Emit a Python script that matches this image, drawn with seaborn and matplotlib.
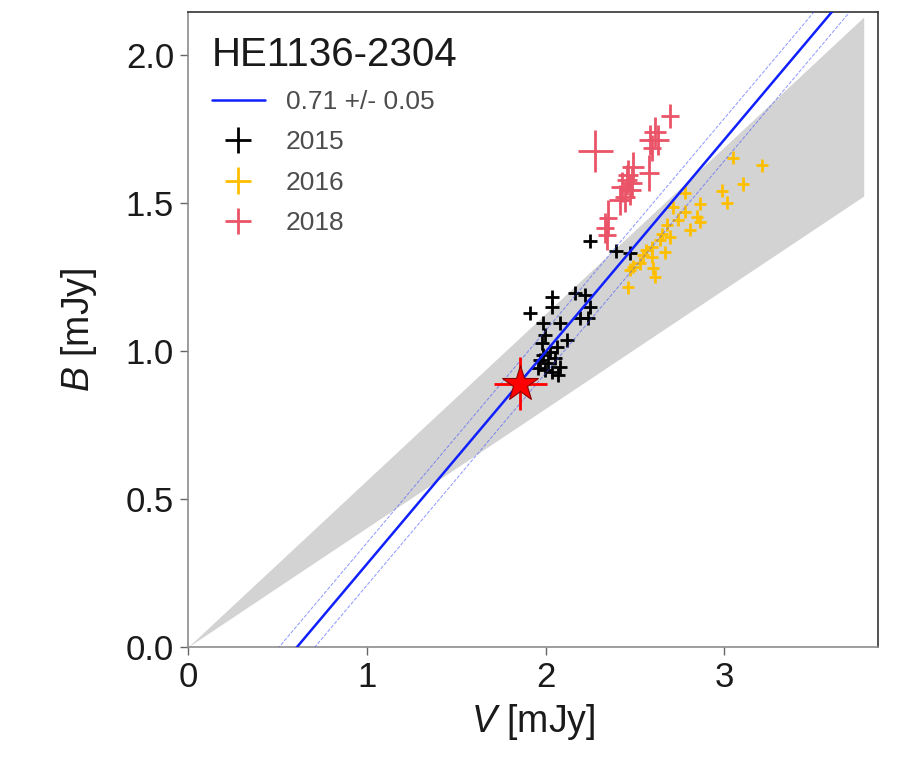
import numpy as np
import pandas as pd
import matplotlib
matplotlib.use("Agg")
import matplotlib.pyplot as plt
import seaborn as sns

# ---------------- data ----------------
v_2015 = [2.250, 2.395, 2.473, 1.914, 2.037, 2.037, 2.166, 2.222, 2.250, 2.194,
          2.238, 1.987, 2.082, 1.998, 2.121, 1.981, 2.065, 2.026, 1.987, 2.054,
          1.970, 2.015, 2.082, 1.998, 2.037, 1.959, 2.071]
b_2015 = [1.372, 1.338, 1.331, 1.128, 1.182, 1.149, 1.196, 1.189, 1.149, 1.111,
          1.111, 1.095, 1.095, 1.054, 1.037, 1.027, 1.014, 0.997, 0.986, 0.976,
          0.970, 0.959, 0.946, 0.936, 0.929, 0.943, 0.919]
verr_2015 = 0.04
berr_2015 = 0.024

v_2016 = [3.050, 3.212, 3.106, 2.988, 3.016, 2.781, 2.714, 2.865, 2.781, 2.742,
          2.848, 2.865, 2.809, 2.680, 2.697, 2.641, 2.597, 2.669, 2.546, 2.597,
          2.490, 2.529, 2.602, 2.613, 2.462, 2.473, 2.560, 2.650]
b_2016 = [1.652, 1.628, 1.564, 1.541, 1.500, 1.534, 1.486, 1.497, 1.470, 1.443,
          1.453, 1.436, 1.409, 1.426, 1.385, 1.375, 1.351, 1.334, 1.324, 1.318,
          1.284, 1.297, 1.280, 1.250, 1.216, 1.274, 1.340, 1.395]
verr_2016 = 0.034
berr_2016 = 0.022

v_2018 = [2.278, 2.697, 2.585, 2.630, 2.613, 2.597, 2.580, 2.490, 2.457, 2.429,
          2.473, 2.445, 2.485, 2.417, 2.350, 2.334, 2.345, 2.462]
b_2018 = [1.676, 1.794, 1.713, 1.713, 1.740, 1.686, 1.601, 1.622, 1.578, 1.554,
          1.544, 1.520, 1.568, 1.510, 1.449, 1.416, 1.392, 1.595]
verr_2018 = [0.098, 0.05, 0.06, 0.06, 0.06, 0.05, 0.055, 0.06, 0.055, 0.06,
             0.06, 0.055, 0.055, 0.06, 0.05, 0.05, 0.05, 0.055]
berr_2018 = [0.070, 0.04, 0.05, 0.05, 0.05, 0.045, 0.06, 0.05, 0.05, 0.05,
             0.05, 0.05, 0.05, 0.05, 0.06, 0.05, 0.05, 0.05]

host_v, host_b = 1.86, 0.89
host_verr, host_berr = 0.15, 0.09

fit_slope = 0.717
fit_x0 = 0.61
fit_dx = 0.10
fit_label = "0.71 +/- 0.05"

band_slope_hi = 0.563
band_slope_lo = 0.403
band_vmax = 3.78

object_name = "HE1136-2304"
years = ["2015", "2016", "2018"]
year_colors = ["black", "#FFBF00", "#EA5468"]

# ---------------- style ----------------
sns.set_theme(style="ticks")
plt.rcParams['font.family'] = ['Liberation Sans', 'DejaVu Sans']
plt.rcParams['mathtext.fontset'] = 'custom'
plt.rcParams['mathtext.it'] = 'Liberation Sans:italic'
plt.rcParams['mathtext.rm'] = 'Liberation Sans'

fig = plt.figure(figsize=(9.02, 7.57), dpi=100)
ax = fig.add_axes([188 / 902, 1 - 647 / 757, 690 / 902, 635 / 757])

# gray host-galaxy wedge
vb = np.linspace(0, band_vmax, 2)
ax.fill_between(vb, band_slope_lo * vb, band_slope_hi * vb,
                color="#D3D3D3", lw=0, zorder=1)

# data points as error-bar crosses
series = [(v_2015, b_2015, verr_2015, berr_2015),
          (v_2016, b_2016, verr_2016, berr_2016),
          (v_2018, b_2018, verr_2018, berr_2018)]
for (v, b, ve, be), yr, col in zip(series, years, year_colors):
    ax.errorbar(v, b, xerr=ve, yerr=be, fmt="none", ecolor=col,
                elinewidth=2.0, capsize=0, label=yr, zorder=3)

# fit line and its uncertainty
vl = np.linspace(0, 4.0, 50)
fit_df = pd.DataFrame({"V": vl, "B": fit_slope * (vl - fit_x0)})
sns.lineplot(data=fit_df, x="V", y="B", color="#1020FF", lw=1.8,
             label=fit_label, ax=ax, zorder=4)
for d in (-fit_dx, fit_dx):
    ax.plot(vl, fit_slope * (vl - fit_x0 - d), color="#4050FF",
            lw=0.7, ls="--", alpha=0.6, zorder=4, label="_nolegend_")

# host galaxy star
ax.errorbar([host_v], [host_b], xerr=host_verr, yerr=host_berr, fmt="*",
            color="red", ms=27, mec="#8B0000", mew=0.8, ecolor="red",
            elinewidth=2.0, zorder=5, label="_nolegend_")

ax.set_xlim(0, 3.86)
ax.set_ylim(0, 2.145)
ax.set_xticks([0, 1, 2, 3])
ax.set_yticks([0.0, 0.5, 1.0, 1.5, 2.0])
ax.set_yticklabels(["0.0", "0.5", "1.0", "1.5", "2.0"])
ax.tick_params(labelsize=25, length=6, width=1.0, color="0.4",
               labelcolor="0.1", pad=4)
ax.set_xlabel(r"$V$ [mJy]", fontsize=27, color="0.1", labelpad=6)
ax.set_ylabel(r"$B$ [mJy]", fontsize=27, color="0.1", labelpad=19)

for side in ["left", "bottom"]:
    ax.spines[side].set_color("0.55")
    ax.spines[side].set_linewidth(1.2)
for side in ["top", "right"]:
    ax.spines[side].set_color("0.2")
    ax.spines[side].set_linewidth(1.2)

leg = ax.legend(loc="upper left", frameon=False, fontsize=19,
                title=object_name, title_fontsize=29, alignment="left",
                labelspacing=0.62)
for t in leg.get_texts():
    t.set_color("0.3")
leg.get_title().set_color("0.1")

fig.savefig("out.png", dpi=100)
